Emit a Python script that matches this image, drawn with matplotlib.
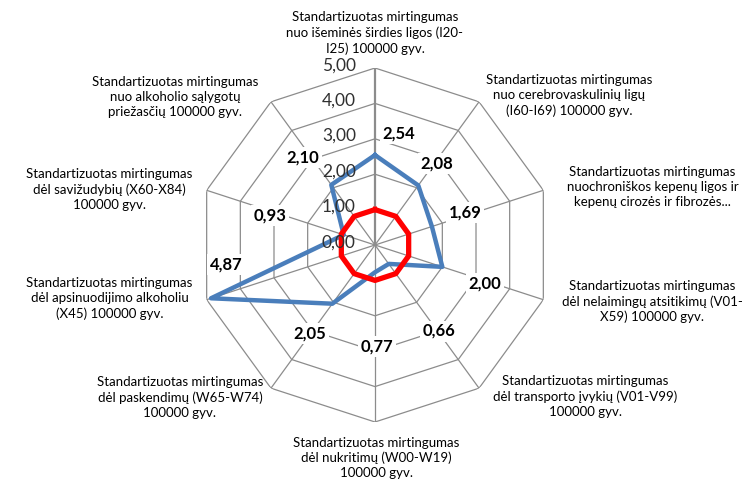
import numpy as np
import matplotlib
matplotlib.use("Agg")
import matplotlib.pyplot as plt

categories = [
    "Standartizuotas mirtingumas\nnuo išeminės širdies ligos (I20-\nI25) 100000 gyv.",
    "Standartizuotas mirtingumas\nnuo cerebrovaskulinių ligų\n(I60-I69) 100000 gyv.",
    "Standartizuotas mirtingumas\nnuochroniškos kepenų ligos ir\nkepenų cirozės ir fibrozės...",
    "Standartizuotas mirtingumas\ndėl nelaimingų atsitikimų (V01-\nX59) 100000 gyv.",
    "Standartizuotas mirtingumas\ndėl transporto įvykių (V01-V99)\n100000 gyv.",
    "Standartizuotas mirtingumas\ndėl nukritimų (W00-W19)\n100000 gyv.",
    "Standartizuotas mirtingumas\ndėl paskendimų (W65-W74)\n100000 gyv.",
    "Standartizuotas mirtingumas\ndėl apsinuodijimo alkoholiu\n(X45) 100000 gyv.",
    "Standartizuotas mirtingumas\ndėl savižudybių (X60-X84)\n100000 gyv.",
    "Standartizuotas mirtingumas\nnuo alkoholio sąlygotų\npriežasčių 100000 gyv.",
]
values = [2.54, 2.08, 1.69, 2.00, 0.66, 0.77, 2.05, 4.87, 0.93, 2.10]
reference = [1.00] * 10
ring_ticks = [0, 1, 2, 3, 4, 5]
ring_labels = ["0,00", "1,00", "2,00", "3,00", "4,00", "5,00"]

# layout: where the value labels and category labels sit
val_lab_deg = [12.2, 37.1, 69.9, 109.5, 143.3, 178.9, 216.1, 262.4, 285.9, 320.7]
val_lab_r = [3.21, 2.90, 2.71, 3.30, 3.03, 2.88, 3.11, 4.25, 3.08, 3.21]
cat_off_px = [(0, 35), (90, 6), (109, 3), (109, -2), (106, -8),
              (1, -36), (-91, -9), (-97, 1), (-97, 1), (-96, 5)]

plt.rcParams['font.family'] = ['Lato', 'DejaVu Sans']

fig = plt.figure(figsize=(7.53, 4.84), dpi=100)
fig.patch.set_facecolor('white')
ax = fig.add_axes([198 / 753, 62 / 484, 354 / 753, 354 / 484], projection='polar')
ax.set_theta_zero_location('N')
ax.set_theta_direction(-1)
ax.set_ylim(0, 5)
ax.grid(False)
ax.spines['polar'].set_visible(False)
ax.set_xticks([])
ax.set_yticks([])
ax.patch.set_alpha(0)

n = len(values)
theta = np.arange(n) * 2 * np.pi / n
theta_c = np.append(theta, theta[0])

grid_col = '#8c8c8c'
for r in ring_ticks[1:]:
    ax.plot(theta_c, [r] * (n + 1), color=grid_col, lw=0.9, zorder=1)
for i, t in enumerate(theta):
    ax.plot([t, t], [0, 5], color=grid_col, lw=1.6 if i == 0 else 0.9, zorder=1)

ax.plot(theta_c, values + values[:1], color='#4A7EBB', lw=3.2, zorder=3)
ax.plot(theta_c, reference + reference[:1], color='#FF0000', lw=3.8, zorder=3)

for r, lab in zip(ring_ticks, ring_labels):
    ax.annotate(lab, xy=(0, r), xytext=(-26, 2), textcoords='offset points',
                ha='center', va='center', fontsize=12.5, color='#303030', zorder=4)

for d, r, v in zip(val_lab_deg, val_lab_r, values):
    ax.text(np.deg2rad(d), r, f"{v:.2f}".replace('.', ','), ha='center', va='center',
            fontsize=12, fontweight='bold', color='black', zorder=5,
            bbox=dict(boxstyle='square,pad=0.15', fc='white', ec='none'))

for t, lab, (dx, dy) in zip(theta, categories, cat_off_px):
    ax.annotate(lab, xy=(t, 5), xytext=(dx * 0.72, dy * 0.72), textcoords='offset points',
                ha='center', va='center', multialignment='center', fontsize=9.5,
                linespacing=1.3, color='black', annotation_clip=False)

plt.savefig('out.png', dpi=100)
